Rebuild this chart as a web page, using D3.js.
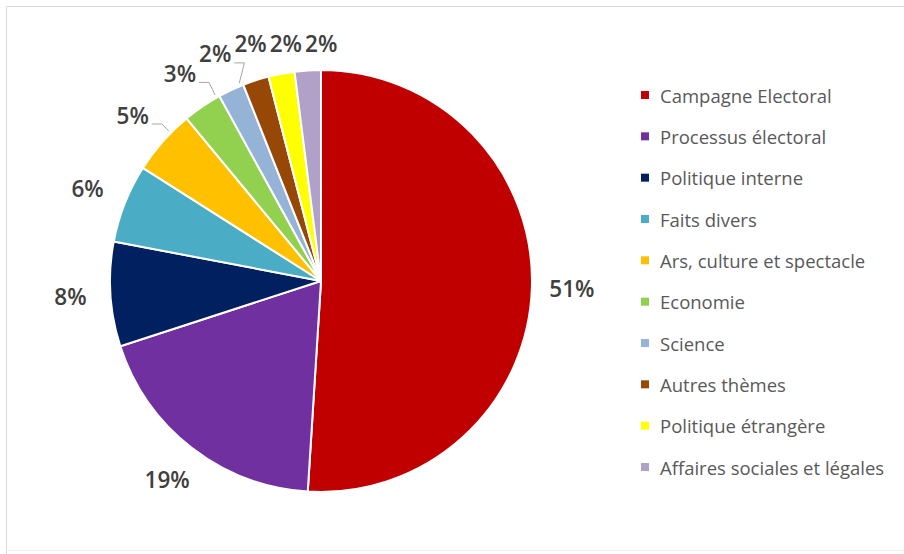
<!DOCTYPE html>
<html>
<head>
<meta charset="utf-8">
<script src="https://cdn.jsdelivr.net/npm/d3@7"></script>
<style>
  html, body { margin: 0; padding: 0; background: #fff; }
  svg { display: block; }
</style>
</head>
<body>
<svg id="chart" width="904" height="554"></svg>
<script>
// Themes and their share of coverage (%)
const categories = [
  "Campagne Electoral",
  "Processus électoral",
  "Politique interne",
  "Faits divers",
  "Ars, culture et spectacle",
  "Economie",
  "Science",
  "Autres thèmes",
  "Politique étrangère",
  "Affaires sociales et légales"
];
const shares = [51, 19, 8, 6, 5, 3, 2, 2, 2, 2];
const colors = [
  "#c00000", "#7030a0", "#002060", "#4bacc6", "#ffc000",
  "#92d050", "#95b3d7", "#974706", "#ffff00", "#b1a0c7"
];

const W = 904, H = 554;
const cx = 321, cy = 281, R = 211;
const svg = d3.select("#chart");

// frame: top and left edges, faint bottom edge
const frame = svg.append("g").attr("fill", "none");
frame.append("path").attr("d", `M6.5,${H}V6.5H${W}`).attr("stroke", "#d9d9d9");
frame.append("path").attr("d", `M6.5,550.5H${W}`).attr("stroke", "#f2f2f2");

const rows = categories.map((c, i) => ({ name: c, value: shares[i], color: colors[i] }));
const pie = d3.pie().value(d => d.value).sort(null);
const arcs = pie(rows);
const arc = d3.arc().innerRadius(0).outerRadius(R);
const labelArc = d3.arc().innerRadius(R + 40).outerRadius(R + 40);

const g = svg.append("g").attr("transform", `translate(${cx},${cy})`);

g.selectAll("path.slice")
  .data(arcs)
  .join("path")
  .attr("class", "slice")
  .attr("d", arc)
  .attr("fill", d => d.data.color)
  .attr("stroke", "#fff")
  .attr("stroke-width", 2)
  .attr("stroke-linejoin", "round");

// value labels: placed outside each slice, upper labels kept on one row and spread apart
const fmt = d => d.data.value + "%";
const labelFont = "'Open Sans', sans-serif";
const labelSize = 22.5;
const labelWeight = 600;
const measure = svg.append("text")
  .attr("font-family", labelFont).attr("font-size", labelSize).attr("font-weight", labelWeight);
const labels = arcs.map(d => {
  const [x, y] = labelArc.centroid(d);
  measure.text(fmt(d));
  const w = measure.node().getComputedTextLength();
  const mid = (d.startAngle + d.endAngle) / 2;
  return { d, x, y, w, mid };
});
measure.remove();

const rowY = -(R + 27);
const gap = 3;
const upperRow = labels.filter(l => l.mid > Math.PI * 1.8).sort((a, b) => a.x - b.x);
upperRow.forEach((l, i) => {
  l.y = Math.max(l.y, rowY);
  if (i > 0) {
    const p = upperRow[i - 1];
    l.x = Math.max(l.x, p.x + p.w / 2 + l.w / 2 + gap);
  }
});

g.selectAll("text.val")
  .data(labels)
  .join("text")
  .attr("class", "val")
  .attr("x", l => l.x)
  .attr("y", l => l.y)
  .attr("text-anchor", "middle")
  .attr("dominant-baseline", "central")
  .attr("font-family", labelFont)
  .attr("font-size", labelSize)
  .attr("font-weight", labelWeight)
  .attr("fill", "#404040")
  .text(l => fmt(l.d));

// leader lines for the crowded upper-left labels
const leaders = labels.filter(l => l.mid > Math.PI * 1.65 && l.mid < Math.PI * 1.87);
const leaderPath = l => {
  const sx = l.x + l.w / 2 + 3, sy = l.y + 9;
  const ex = sx + 10, ey = sy;
  let a = Math.atan2(ex, -ey);
  if (a < 0) a += 2 * Math.PI;
  const inset = 0.015;
  a = Math.min(Math.max(a, l.d.startAngle + inset), l.d.endAngle - inset);
  const px = (R + 3) * Math.sin(a), py = -(R + 3) * Math.cos(a);
  return d3.line()([[sx, sy], [ex, ey], [px, py]]);
};
g.selectAll("path.leader")
  .data(leaders)
  .join("path")
  .attr("class", "leader")
  .attr("d", leaderPath)
  .attr("fill", "none")
  .attr("stroke", "#a6a6a6")
  .attr("stroke-width", 1);

// legend
const y = d3.scalePoint().domain(categories).range([95, 467]);
const legend = svg.append("g").selectAll("g")
  .data(rows)
  .join("g")
  .attr("transform", d => `translate(641,${y(d.name)})`);
legend.append("rect")
  .attr("x", 0).attr("y", -4)
  .attr("width", 8).attr("height", 8)
  .attr("fill", d => d.color);
legend.append("text")
  .attr("x", 19).attr("y", 0)
  .attr("dominant-baseline", "central")
  .attr("font-family", "'Open Sans', sans-serif")
  .attr("font-size", 18.5)
  .attr("fill", "#595959")
  .text(d => d.name);
</script>
</body>
</html>
